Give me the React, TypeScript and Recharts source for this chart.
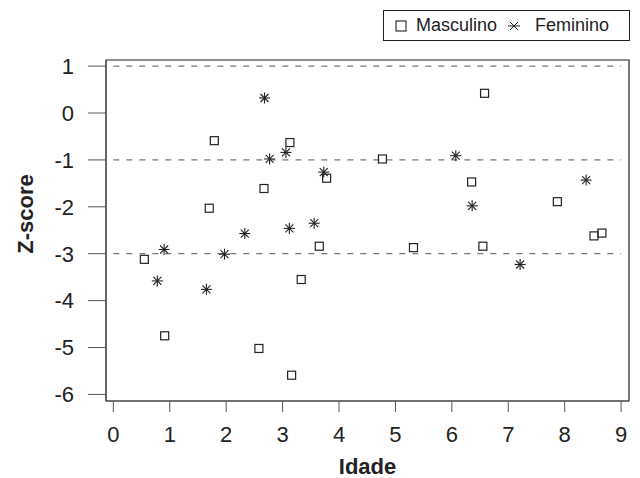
import React from 'react';
import {
  ScatterChart, Scatter, XAxis, YAxis, ReferenceLine, ReferenceArea, Label,
} from 'recharts';

// Idade x Z-score
const mascIdade = [0.55, 0.91, 1.70, 1.79, 2.58, 2.67, 3.13, 3.16, 3.33, 3.65, 3.78, 4.77, 5.32, 6.35, 6.58, 6.55, 7.87, 8.52, 8.66];
const mascZ = [-3.12, -4.75, -2.03, -0.59, -5.02, -1.61, -0.63, -5.59, -3.55, -2.84, -1.39, -0.98, -2.87, -1.47, 0.42, -2.84, -1.89, -2.62, -2.56];

const femIdade = [0.78, 0.90, 1.65, 1.97, 2.33, 2.68, 2.77, 3.06, 3.12, 3.56, 3.73, 6.07, 6.36, 7.21, 8.38];
const femZ = [-3.58, -2.91, -3.76, -3.01, -2.57, 0.32, -0.98, -0.84, -2.46, -2.35, -1.26, -0.91, -1.98, -3.23, -1.43];

const xTicks = [0, 1, 2, 3, 4, 5, 6, 7, 8, 9];
const yTicks = [1, 0, -1, -2, -3, -4, -5, -6];
const cutoffs = [1, -1, -3];

const X_DOMAIN: [number, number] = [-0.13, 9.14];
const Y_DOMAIN: [number, number] = [-6.14, 1.13];

const FONT = '"Liberation Sans", Arial, Helvetica, sans-serif';
const INK = '#222';

const masculino = mascIdade.map((x, i) => ({ x, y: mascZ[i] }));
const feminino = femIdade.map((x, i) => ({ x, y: femZ[i] }));

const Square = (props: any) => {
  const { cx, cy } = props;
  return <rect x={cx - 4} y={cy - 4} width={8} height={8} fill="none" stroke={INK} strokeWidth={1.2} />;
};

const Asterisk = (props: any) => {
  const { cx, cy } = props;
  const p = 5.5;
  const d = 4;
  return (
    <g stroke={INK} strokeWidth={1.1}>
      <line x1={cx - p} y1={cy} x2={cx + p} y2={cy} />
      <line x1={cx} y1={cy - p} x2={cx} y2={cy + p} />
      <line x1={cx - d} y1={cy - d} x2={cx + d} y2={cy + d} />
      <line x1={cx - d} y1={cy + d} x2={cx + d} y2={cy - d} />
    </g>
  );
};

// legend box drawn on top of the chart, top-right like the R plot
const LegendBox = () => (
  <div
    style={{
      position: 'absolute',
      top: 10,
      left: 383,
      width: 247,
      height: 31,
      border: `1px solid ${INK}`,
      display: 'flex',
      alignItems: 'center',
      fontFamily: FONT,
      fontSize: 18,
      color: INK,
      paddingLeft: 11,
      boxSizing: 'border-box',
      background: '#fff',
    }}
  >
    <svg width={12} height={12} style={{ marginRight: 9 }}>
      <rect x={1} y={1} width={10} height={10} fill="none" stroke={INK} strokeWidth={1.1} />
    </svg>
    <span>Masculino</span>
    <svg width={14} height={14} style={{ marginLeft: 10, marginRight: 14 }}>
      <g stroke={INK} strokeWidth={1}>
        <line x1={1} y1={7} x2={13} y2={7} />
        <line x1={3} y1={3} x2={11} y2={11} />
        <line x1={3} y1={11} x2={11} y2={3} />
      </g>
    </svg>
    <span>Feminino</span>
  </div>
);

const App: React.FC = () => {
  return (
    <div style={{ position: 'absolute', left: 0, top: 0, width: 640, height: 478, background: '#fff' }}>
      <ScatterChart width={640} height={478} margin={{ top: 60, right: 11, bottom: 0, left: 0 }}>
        <XAxis
          type="number"
          dataKey="x"
          domain={X_DOMAIN}
          ticks={xTicks}
          allowDataOverflow
          height={77}
          tickSize={11}
          tickMargin={14}
          stroke="#555"
          tick={{ fill: INK, fontSize: 22, fontFamily: FONT }}
        >
          <Label
            content={(props: any) => {
              const vb = props.viewBox;
              return (
                <text x={vb.x + vb.width / 2} y={474} textAnchor="middle" fontFamily={FONT} fontSize={22} fontWeight="bold" fill={INK}>
                  Idade
                </text>
              );
            }}
          />
        </XAxis>
        <YAxis
          type="number"
          dataKey="y"
          domain={Y_DOMAIN}
          ticks={yTicks}
          allowDataOverflow
          width={106}
          tickSize={18}
          tickMargin={14}
          stroke="#555"
          tick={{ fill: INK, fontSize: 22, fontFamily: FONT }}
        >
          <Label
            content={() => (
              <text x={33} y={214} transform="rotate(-90 33 214)" textAnchor="middle" fontFamily={FONT} fontSize={22} fontWeight="bold" fill={INK}>
                Z-score
              </text>
            )}
          />
        </YAxis>
        <ReferenceArea x1={X_DOMAIN[0]} x2={X_DOMAIN[1]} y1={Y_DOMAIN[0]} y2={Y_DOMAIN[1]} fill="none" stroke={INK} strokeWidth={1.2} fillOpacity={0} />
        {cutoffs.map((c) => (
          <ReferenceLine
            key={c}
            segment={[{ x: 0, y: c }, { x: 9, y: c }]}
            stroke="#555"
            strokeDasharray="6 7"
            strokeWidth={1}
          />
        ))}
        <Scatter name="Masculino" data={masculino} shape={<Square />} isAnimationActive={false} />
        <Scatter name="Feminino" data={feminino} shape={<Asterisk />} isAnimationActive={false} />
      </ScatterChart>
      <LegendBox />
    </div>
  );
};

export default App;
